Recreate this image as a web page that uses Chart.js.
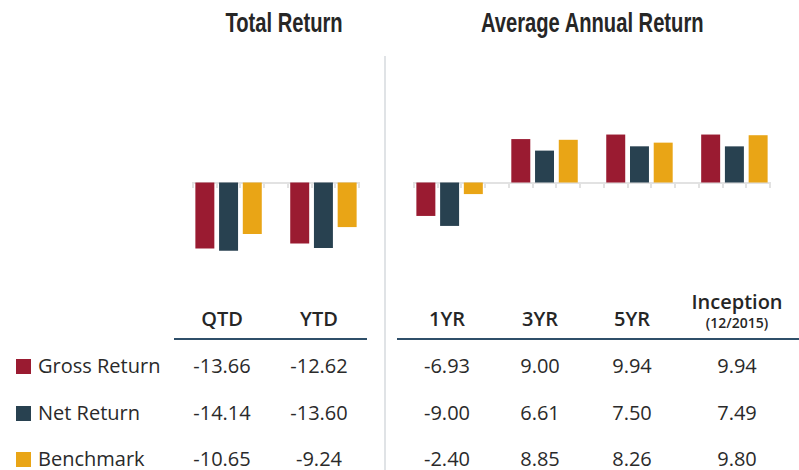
<!DOCTYPE html>
<html><head><meta charset="utf-8">
<script src="https://cdn.jsdelivr.net/npm/chart.js@4"></script>
<style>
body{margin:0;width:799px;height:470px;background:#fff;position:relative;overflow:hidden;font-family:"Open Sans",sans-serif;color:#2a2a2a}
.t{position:absolute;white-space:nowrap;line-height:1}
.title{font-family:"Liberation Sans",Arial,sans-serif;font-weight:bold;font-size:28px;line-height:28px;color:#262626;width:300px;text-align:center;top:9px;transform:scaleX(0.72);transform-origin:50% 50%}
.hd{font-weight:600;font-size:20px;line-height:20px;width:120px;text-align:center;top:309px;color:#262626}
.val{font-size:20px;line-height:20px;width:120px;text-align:center}
.lab{font-size:20px;line-height:20px;left:38px}
.sq{position:absolute;left:16px;width:15px;height:15px}
.rule{position:absolute;height:2px;background:#2f4f69}
canvas{position:absolute}
</style></head>
<body>
<div id="root"></div>
<canvas id="c1" width="170" height="193" style="left:191px;top:86px"></canvas>
<canvas id="c2" width="360" height="193" style="left:412px;top:86px"></canvas>
<div style="position:absolute;left:384px;top:56px;width:2px;height:414px;background:#e0e3e6"></div>
<div class="rule" style="left:174px;top:338px;width:193px"></div>
<div class="rule" style="left:397px;top:338px;width:402px"></div>
<script>
const totalCategories = ['QTD', 'YTD'];
const annualCategories = ['1YR', '3YR', '5YR', 'Inception'];
const inceptionNote = '(12/2015)';
const seriesNames = ['Gross Return', 'Net Return', 'Benchmark'];
const grossTotal = [-13.66, -12.62];
const netTotal = [-14.14, -13.60];
const benchTotal = [-10.65, -9.24];
const grossAnnual = [-6.93, 9.00, 9.94, 9.94];
const netAnnual = [-9.00, 6.61, 7.50, 7.49];
const benchAnnual = [-2.40, 8.85, 8.26, 9.80];

const seriesColors = ['#9a1b31', '#284150', '#e9a516'];
const colCenters = {QTD:222, YTD:319, '1YR':447, '3YR':540, '5YR':632, 'Inception':737};
const rowTops = [356, 402.5, 449];

function makeChart(id, cats, g, n, b) {
  const labels = [], data = [], colors = [];
  cats.forEach((c, i) => {
    if (i > 0) { labels.push(''); data.push(null); colors.push('rgba(0,0,0,0)'); }
    [g, n, b].forEach((arr, k) => {
      labels.push(c + ' ' + seriesNames[k]);
      data.push(arr[i]);
      colors.push(seriesColors[k]);
    });
  });
  new Chart(document.getElementById(id), {
    type: 'bar',
    data: {labels, datasets: [{data, backgroundColor: colors, barPercentage: 0.8, categoryPercentage: 1}]},
    options: {
      responsive: false, animation: false, events: [], devicePixelRatio: 1,
      layout: {padding: {left: 2, right: 2, top: 0, bottom: 0}},
      plugins: {legend: {display: false}, tooltip: {enabled: false}},
      scales: {
        x: {position: {y: 0}, ticks: {display: false},
            grid: {display: true, drawOnChartArea: false, drawTicks: true, tickLength: 4, color: '#e2e2e2', lineWidth: 2, offset: true},
            border: {display: true, color: '#e2e2e2', width: 2}},
        y: {display: false, min: -20, max: 20}
      }
    }
  });
}
makeChart('c1', totalCategories, grossTotal, netTotal, benchTotal);
makeChart('c2', annualCategories, grossAnnual, netAnnual, benchAnnual);

const root = document.getElementById('root');
function add(cls, text, style) {
  const d = document.createElement('div');
  d.className = 't ' + cls; d.textContent = text; d.setAttribute('style', style); root.appendChild(d); return d;
}
add('title', 'Total Return', 'left:' + (284 - 150) + 'px');
add('title', 'Average Annual Return', 'left:' + (589 - 150) + 'px');

const allCats = totalCategories.concat(annualCategories);
allCats.forEach(c => {
  if (c === 'Inception') {
    add('hd', c, 'left:' + (colCenters[c] - 60) + 'px;top:292px');
    add('hd', inceptionNote, 'left:' + (colCenters[c] - 60) + 'px;top:316px;font-size:14px;line-height:14px');
  } else {
    add('hd', c, 'left:' + (colCenters[c] - 60) + 'px');
  }
});

const totals = [grossTotal, netTotal, benchTotal];
const annuals = [grossAnnual, netAnnual, benchAnnual];
seriesNames.forEach((name, k) => {
  const sq = document.createElement('div');
  sq.className = 'sq'; sq.style.top = (rowTops[k] + 3) + 'px'; sq.style.background = seriesColors[k];
  root.appendChild(sq);
  add('lab', name, 'top:' + rowTops[k] + 'px');
  totalCategories.forEach((c, i) => add('val', totals[k][i].toFixed(2), 'left:' + (colCenters[c] - 60) + 'px;top:' + rowTops[k] + 'px'));
  annualCategories.forEach((c, i) => add('val', annuals[k][i].toFixed(2), 'left:' + (colCenters[c] - 60) + 'px;top:' + rowTops[k] + 'px'));
});
</script>
</body></html>
